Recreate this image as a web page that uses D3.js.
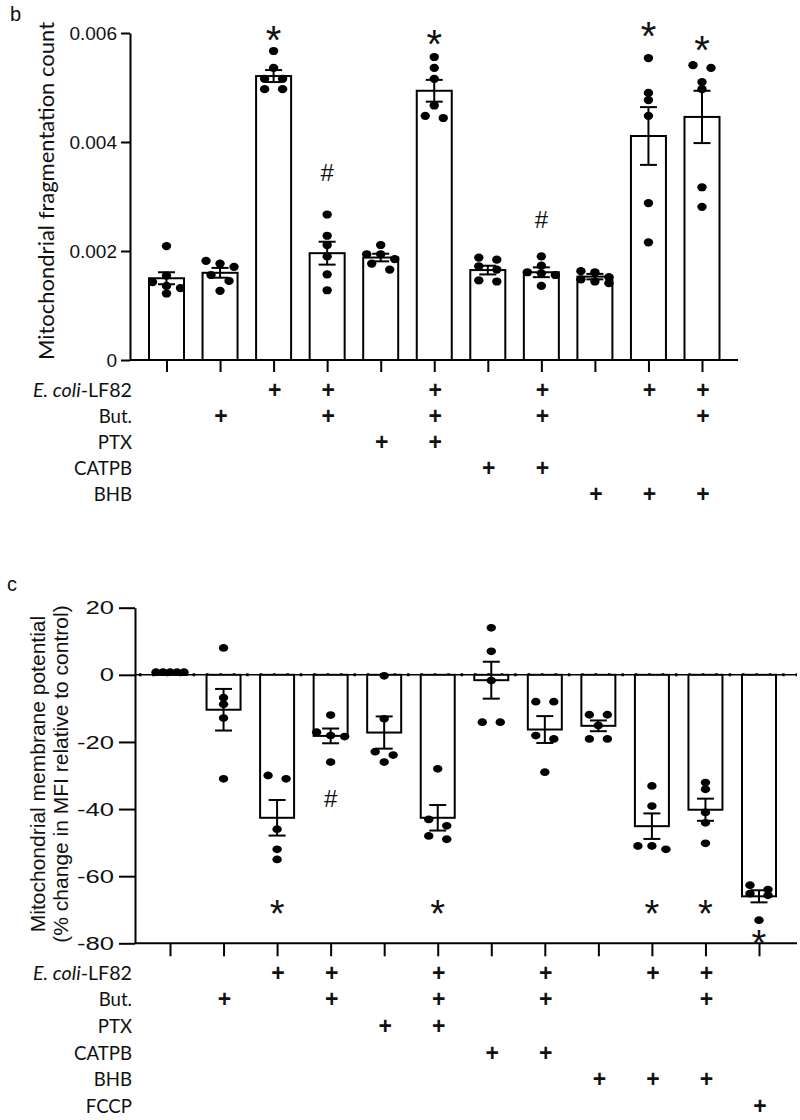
<!DOCTYPE html>
<html><head><meta charset="utf-8">
<script src="https://cdn.jsdelivr.net/npm/d3@7/dist/d3.min.js"></script>
<style>body{margin:0;background:#fff} svg{display:block}</style>
</head><body>
<svg id="chart" width="800" height="1120"></svg>
<script>
// ================= DATA =================
// Panel b : mitochondrial fragmentation count
const categoriesB = ["Control","But.","LF82","LF82+But.","PTX","LF82+But.+PTX","CATPB","LF82+But.+CATPB","BHB","LF82+BHB","LF82+But.+BHB"];
const meansB = [0.00150,0.00160,0.00521,0.00196,0.00188,0.00494,0.00165,0.00161,0.00153,0.00411,0.00446];
const semB   = [0.00011,0.00009,0.00011,0.00021,0.00007,0.00020,0.00008,0.00009,0.00005,0.00053,0.00048];
const pointsB = [
  [0.00209,0.00155,0.00143,0.00136,0.00132,0.00122],
  [0.00182,0.00177,0.00171,0.00156,0.00145,0.00127],
  [0.00567,0.00536,0.00516,0.00516,0.00497,0.00497],
  [0.00267,0.00228,0.00211,0.00190,0.00157,0.00128],
  [0.00211,0.00194,0.00194,0.00185,0.00177,0.00166],
  [0.00556,0.00536,0.00516,0.00467,0.00448,0.00444],
  [0.00188,0.00184,0.00172,0.00166,0.00146,0.00144],
  [0.00190,0.00173,0.00161,0.00159,0.00156,0.00136],
  [0.00163,0.00161,0.00152,0.00148,0.00144,0.00141],
  [0.00554,0.00490,0.00477,0.00448,0.00288,0.00216],
  [0.00541,0.00536,0.00510,0.00497,0.00317,0.00281]
];
const tickValuesB = [0,0.002,0.004,0.006];
const tickLabelsB = ["0","0.002","0.004","0.006"];
const treatmentsB = ["E. coli-LF82","But.","PTX","CATPB","BHB"];
const matrixB = [
  [0,0,1,1,0,1,0,1,0,1,1],
  [0,1,0,1,0,1,0,1,0,0,1],
  [0,0,0,0,1,1,0,0,0,0,0],
  [0,0,0,0,0,0,1,1,0,0,0],
  [0,0,0,0,0,0,0,0,1,1,1]
];
const sigB = [
  {g:2, mark:"*", at:0.00602},
  {g:3, mark:"#", at:0.00343},
  {g:5, mark:"*", at:0.00596},
  {g:7, mark:"#", at:0.00257},
  {g:9, mark:"*", at:0.00609},
  {g:10, mark:"*", at:0.00585}
];
const yTitleB = "Mitochondrial fragmentation count";

// Panel c : mitochondrial membrane potential
const categoriesC = ["Control","But.","LF82","LF82+But.","PTX","LF82+But.+PTX","CATPB","LF82+But.+CATPB","BHB","LF82+BHB","LF82+But.+BHB","FCCP"];
const meansC = [0.8,-10.4,-42.6,-18.2,-17.2,-42.6,-1.6,-16.3,-15.2,-45.1,-40.2,-66.0];
const semC   = [0,6.2,5.3,2.2,4.8,3.8,5.5,4.0,1.6,3.8,3.3,1.8];
const pointsC = [
  [0.8,0.8,0.8,0.8,0.8],
  [8,-6.8,-8.8,-12.9,-31],
  [-30,-31,-46,-52,-55],
  [-12,-17.1,-18.1,-18.4,-26],
  [-0.3,-13.1,-22.9,-23.9,-26],
  [-28,-43.1,-45,-48,-49],
  [14,7,-1.7,-14.1,-14.1],
  [-8,-8,-18.1,-19.1,-29],
  [-11.9,-11.9,-15.1,-19.1,-19.1],
  [-33.1,-39.1,-51,-51,-52],
  [-32.1,-34.1,-41,-44.1,-50.2],
  [-62.7,-64,-65.2,-65.7,-73.1]
];
const tickValuesC = [20,0,-20,-40,-60,-80];
const tickLabelsC = ["20","0","-20","-40","-60","-80"];
const treatmentsC = ["E. coli-LF82","But.","PTX","CATPB","BHB","FCCP"];
const matrixC = [
  [0,0,1,1,0,1,0,1,0,1,1,0],
  [0,1,0,1,0,1,0,1,0,0,1,0],
  [0,0,0,0,1,1,0,0,0,0,0,0],
  [0,0,0,0,0,0,1,1,0,0,0,0],
  [0,0,0,0,0,0,0,0,1,1,1,0],
  [0,0,0,0,0,0,0,0,0,0,0,1]
];
const sigC = [
  {g:2, mark:"*", at:-68.7},
  {g:3, mark:"#", at:-36.8},
  {g:5, mark:"*", at:-68.7},
  {g:9, mark:"*", at:-68.7},
  {g:10, mark:"*", at:-68.7},
  {g:11, mark:"*", at:-77.6}
];
const yTitleC = ["Mitochondrial membrane potential","(% change in MFI relative to control)"];

// ================= DRAW =================
const svg = d3.select("#chart");
const SANS = "'Liberation Sans', Arial, sans-serif";
const HUM = "Lato, 'Open Sans', sans-serif";

function fitFont(family, sample, target, base) {
  const t = svg.append("text").attr("font-family",family).attr("font-size",base).text(sample);
  const w = t.node().getComputedTextLength();
  t.remove();
  return w > 0 ? base*target/w : base;
}
const ROWFONT = fitFont(HUM, "CATPB", 58, 20);

function swarm(vals, y, maxSpread) {
  const idx = vals.map((v,i)=>({v, py:y(v)})).sort((a,b)=>a.py-b.py);
  const rows = [];
  idx.forEach(p=>{
    const r = rows[rows.length-1];
    if (r && p.py - r[0].py < 6.5) r.push(p); else rows.push([p]);
  });
  const out = [];
  rows.forEach(r=>{
    const n = r.length;
    const s = n===1 ? 0 : Math.min(18, maxSpread/(n-1));
    r.forEach((p,k)=>out.push({v:p.v, dx:(k-(n-1)/2)*s}));
  });
  return out;
}

function drawPanel(o) {
  const g = svg.append("g");
  const x = d3.scalePoint().domain(o.categories).range(o.xRange);
  const y = d3.scaleLinear().domain(o.yDomain).range(o.yRange);
  const y0 = y(0);

  // y axis
  const ya = g.append("g").attr("transform",`translate(${o.axisX},0)`)
    .call(d3.axisLeft(y).tickValues(o.tickValues).tickFormat((d,i)=>o.tickLabels[i])
      .tickSize(o.yTick).tickPadding(o.yPad).tickSizeOuter(0));
  ya.select(".domain").attr("stroke","#000").attr("stroke-width",2);
  ya.selectAll(".tick line").attr("stroke","#000").attr("stroke-width",2);
  ya.selectAll(".tick text").attr("font-family",SANS).attr("font-size",o.tickFont).attr("fill","#111");
  if (o.tickStretch) {
    ya.selectAll(".tick text").attr("transform",
      `translate(${-o.yTick-o.yPad},0) scale(${o.tickStretch},1) translate(${o.yTick+o.yPad},0)`);
  }

  // zero line (panel c) dotted style
  if (o.zeroLine) {
    g.append("line").attr("x1",o.axisX).attr("x2",o.axisEnd).attr("y1",y0).attr("y2",y0)
      .attr("stroke","#000").attr("stroke-width",1.5);
    g.append("line").attr("x1",o.axisX+4).attr("x2",o.axisEnd).attr("y1",y0).attr("y2",y0)
      .attr("stroke","#000").attr("stroke-width",3).attr("stroke-dasharray","2.5,10.9");
  }

  // bars
  g.selectAll("rect.bar").data(o.means).join("rect").attr("class","bar")
    .attr("x",(d,i)=>x(o.categories[i])-o.barW/2)
    .attr("y",d=>Math.min(y(d),y0))
    .attr("width",o.barW)
    .attr("height",d=>Math.abs(y(d)-y0))
    .attr("fill","#fff").attr("stroke","#000").attr("stroke-width",2);

  // x axis
  const xa = g.append("g").attr("transform",`translate(0,${o.xAxisY})`)
    .call(d3.axisBottom(x).tickSize(o.xTick).tickFormat(""));
  xa.select(".domain").remove();
  xa.selectAll(".tick line").attr("stroke","#000").attr("stroke-width",2);
  g.append("line").attr("x1",o.axisX).attr("x2",o.axisEnd).attr("y1",o.xAxisY).attr("y2",o.xAxisY)
    .attr("stroke","#000").attr("stroke-width",2);

  // error bars
  o.means.forEach((m,i)=>{
    const s = o.sem[i]; if (!s) return;
    const cx = x(o.categories[i]);
    const eg = g.append("g").attr("stroke","#000").attr("stroke-width",2);
    eg.append("line").attr("x1",cx).attr("x2",cx).attr("y1",y(m-s)).attr("y2",y(m+s));
    [m-s,m+s].forEach(v=>eg.append("line").attr("x1",cx-o.capW/2).attr("x2",cx+o.capW/2).attr("y1",y(v)).attr("y2",y(v)));
  });

  // dots
  o.points.forEach((vals,i)=>{
    const cx = x(o.categories[i]);
    g.selectAll(null).data(swarm(vals,y,28)).join("ellipse")
      .attr("cx",d=>cx+d.dx).attr("cy",d=>y(d.v))
      .attr("rx",o.dotRx).attr("ry",o.dotRy).attr("fill","#000");
  });

  // significance marks
  o.sig.forEach(s=>{
    const cx = x(o.categories[s.g]);
    const star = s.mark==="*";
    const fs = star ? o.starFont : o.hashFont;
    g.append("text").attr("x",cx).attr("y",y(s.at)+(star?0.56:0.35)*fs)
      .attr("text-anchor","middle").attr("font-family",SANS).attr("font-size",fs)
      .attr("fill","#111").text(s.mark);
  });

  // treatment table
  o.treatments.forEach((t,r)=>{
    const ry = o.rowY0 + r*o.rowStep;
    const tx = g.append("text").attr("x",o.labelX).attr("y",ry+0.36*ROWFONT)
      .attr("text-anchor","end").attr("font-family",HUM).attr("font-size",ROWFONT).attr("fill","#111");
    if (t.startsWith("E. coli")) {
      tx.append("tspan").attr("font-style","italic").text("E. coli");
      tx.append("tspan").text(t.slice(7));
      // keep the label about as wide as in the reference (~99px)
      const w = tx.node().getComputedTextLength();
      if (w > 0 && Math.abs(w-99) > 3) tx.attr("font-size", ROWFONT*99/w);
    } else tx.text(t);
    o.matrix[r].forEach((on,i)=>{
      if (!on) return;
      g.append("text").attr("x",x(o.categories[i])+1).attr("y",ry+0.34*o.plusFont)
        .attr("text-anchor","middle").attr("font-family",SANS).attr("font-weight","bold")
        .attr("font-size",o.plusFont).attr("fill","#111").text("+");
    });
  });

  // y title
  o.yTitle.forEach((line,k)=>{
    g.append("text")
      .attr("transform",`translate(${o.titleX[k]},${o.titleY}) rotate(-90)`)
      .attr("text-anchor","middle").attr("font-family",o.titleFamily).attr("font-size",o.titleFont)
      .attr("fill","#111").text(line);
  });

  // panel letter
  svg.append("text").attr("x",o.letterX).attr("y",o.letterY).attr("font-family",SANS)
    .attr("font-size",20).attr("fill","#111").text(o.letter);
}

drawPanel({
  letter:"b", letterX:10, letterY:21,
  categories:categoriesB, means:meansB, sem:semB, points:pointsB,
  tickValues:tickValuesB, tickLabels:tickLabelsB,
  treatments:treatmentsB, matrix:matrixB, sig:sigB,
  yTitle:[yTitleB], titleX:[54], titleY:191, titleFont:22, titleFamily:HUM,
  xRange:[166.5,702], yDomain:[0,0.006], yRange:[360,33],
  axisX:130, axisEnd:738, xAxisY:360, xTick:12, yTick:9, yPad:4, tickFont:19, tickStretch:0,
  barW:35, capW:17, dotRx:4.7, dotRy:4.1,
  starFont:40, hashFont:24, plusFont:23,
  labelX:132, rowY0:390, rowStep:26, zeroLine:false
});

drawPanel({
  letter:"c", letterX:7, letterY:591,
  categories:categoriesC, means:meansC, sem:semC, points:pointsC,
  tickValues:tickValuesC, tickLabels:tickLabelsC,
  treatments:treatmentsC, matrix:matrixC, sig:sigC,
  yTitle:yTitleC, titleX:[45,68], titleY:774, titleFont:21, titleFamily:SANS,
  xRange:[170,759], yDomain:[20,-80], yRange:[607.7,943.3],
  axisX:135, axisEnd:797, xAxisY:943.3, xTick:13, yTick:16, yPad:5, tickFont:19, tickStretch:1.35,
  barW:34, capW:17, dotRx:4.7, dotRy:3.9,
  starFont:38, hashFont:24, plusFont:23,
  labelX:132, rowY0:973, rowStep:26.6, zeroLine:true
});
</script>
</body></html>
